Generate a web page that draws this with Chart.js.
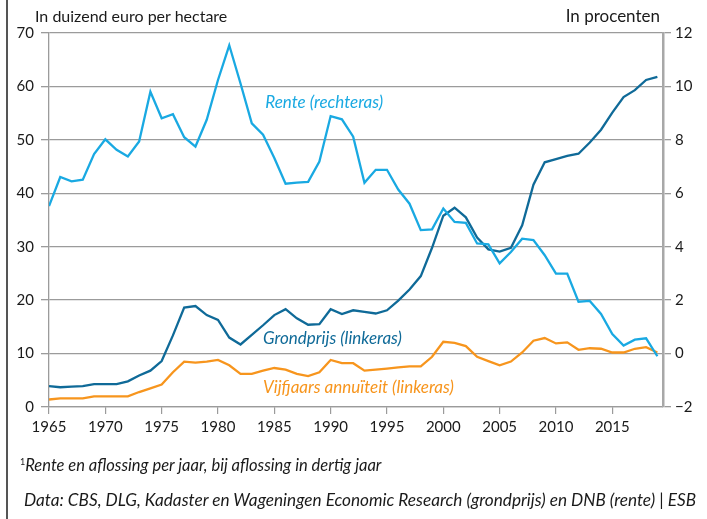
<!DOCTYPE html>
<html>
<head>
<meta charset="utf-8">
<script src="https://cdn.jsdelivr.net/npm/chart.js@4"></script>
<style>
  body { margin: 0; background: #fff; }
  #wrap { position: relative; width: 707px; height: 519px; font-family: Lato, "Open Sans", sans-serif; color: #1a1a1a; }
  #frame { position: absolute; left: 6px; top: 0; width: 2px; height: 519px; background: #555; }
  .note { position: absolute; font-style: italic; white-space: nowrap; }
  #axl { position: absolute; left: 35px; top: 6px; font-size: 16px; }
  #axr { position: absolute; right: 47px; top: 5px; font-size: 17px; }
</style>
</head>
<body>
<div id="wrap">
  <canvas id="myChart" width="707" height="519"></canvas>
  <div id="frame"></div>
  <div id="axl">In duizend euro per hectare</div>
  <div id="axr">In procenten</div>
  <div class="note" style="left:20px; top:455px; font-size:16.5px;"><sup style="font-size:9px; font-style:normal;">1</sup>Rente en aflossing per jaar, bij aflossing in dertig jaar</div>
  <div class="note" style="left:24px; top:489px; font-size:17.2px;">Data: CBS, DLG, Kadaster en Wageningen Economic Research (grondprijs) en DNB (rente) | ESB</div>
</div>
<script>
// data
var years = [];
for (var y = 1965; y <= 2019; y++) years.push(y);

var grondprijs = [
  3.9, 3.7, 3.8, 3.9, 4.3, 4.3, 4.3, 4.8, 5.9, 6.8,
  8.6, 13.4, 18.6, 18.9, 17.2, 16.3, 13.0, 11.7, 13.5, 15.3,
  17.2, 18.3, 16.6, 15.4, 15.5, 18.3, 17.4, 18.1, 17.8, 17.5,
  18.1, 19.9, 22.0, 24.5, 29.8, 35.8, 37.3, 35.5, 31.7, 29.5,
  29.1, 29.8, 34.0, 41.6, 45.8, 46.4, 47.0, 47.4, 49.5, 51.9,
  55.1, 58.0, 59.3, 61.2, 61.8
];

var annuiteit = [
  1.4, 1.6, 1.6, 1.6, 2.0, 2.0, 2.0, 2.0, 2.8, 3.5,
  4.2, 6.5, 8.5, 8.3, 8.5, 8.8, 7.8, 6.2, 6.2, 6.8,
  7.3, 7.0, 6.2, 5.8, 6.5, 8.8, 8.2, 8.2, 6.8, 7.0,
  7.2, 7.4, 7.6, 7.6, 9.4, 12.2, 12.0, 11.4, 9.4, 8.6,
  7.8, 8.5, 10.2, 12.4, 12.9, 11.9, 12.1, 10.7, 11.0, 10.9,
  10.2, 10.2, 10.9, 11.2, 10.2
];

var rente = [
  5.52, 6.61, 6.45, 6.51, 7.47, 8.02, 7.63, 7.38, 7.94, 9.80,
  8.81, 8.96, 8.10, 7.75, 8.75, 10.24, 11.54, 10.11, 8.62, 8.19,
  7.32, 6.36, 6.40, 6.43, 7.19, 8.89, 8.77, 8.12, 6.39, 6.88,
  6.88, 6.14, 5.61, 4.62, 4.65, 5.43, 4.93, 4.89, 4.12, 4.09,
  3.38, 3.80, 4.30, 4.25, 3.68, 2.99, 2.99, 1.94, 1.97, 1.48,
  0.73, 0.30, 0.52, 0.57, -0.10
];

var xTicks = [1965, 1970, 1975, 1980, 1985, 1990, 1995, 2000, 2005, 2010, 2015];

function pts(arr) {
  return arr.map((v, i) => ({ x: years[i], y: v }));
}

var gridColor = "#9b9b9b";

// line labels drawn inside the plot
var lineLabels = {
  id: "lineLabels",
  afterDatasetsDraw(chart) {
    var c = chart.ctx;
    var x = chart.scales.x, yl = chart.scales.yl, yr = chart.scales.yr;
    var items = [
      { t: "Rente (rechteras)", x: 1984.2, y: yr.getPixelForValue(9.38), col: "#19a9e2" },
      { t: "Grondprijs (linkeras)", x: 1984.0, y: yl.getPixelForValue(12.9), col: "#0f6a98" },
      { t: "Vijfjaars annuïteit (linkeras)", x: 1984.0, y: yl.getPixelForValue(3.6), col: "#f7951d" },
    ];
    c.save();
    c.font = "italic 17px Lato";
    c.textBaseline = "middle";
    items.forEach((it) => {
      c.fillStyle = it.col;
      c.fillText(it.t, x.getPixelForValue(it.x), it.y);
    });
    c.restore();
  },
};

Chart.defaults.font.family = "Lato";
Chart.defaults.font.size = 15;
Chart.defaults.color = "#1a1a1a";

var ctx = document.getElementById("myChart").getContext("2d");

var myChart = new Chart(ctx, {
  type: "line",
  data: {
    datasets: [
      {
        label: "Rente (rechteras)",
        data: pts(rente),
        yAxisID: "yr",
        borderColor: "#19a9e2",
        borderWidth: 2.3,
      },
      {
        label: "Grondprijs (linkeras)",
        data: pts(grondprijs),
        yAxisID: "yl",
        borderColor: "#0f6a98",
        borderWidth: 2.3,
      },
      {
        label: "Vijfjaars annuïteit (linkeras)",
        data: pts(annuiteit),
        yAxisID: "yl",
        borderColor: "#f7951d",
        borderWidth: 2.3,
      },
    ],
  },
  options: {
    responsive: false,
    animation: false,
    events: [],
    elements: { point: { radius: 0 }, line: { tension: 0 } },
    layout: { padding: { top: 33, bottom: 82, left: 0, right: 0 } },
    plugins: { legend: { display: false }, tooltip: { enabled: false } },
    scales: {
      x: {
        type: "linear",
        min: 1965,
        max: 2019.5,
        afterBuildTicks: (s) => { s.ticks = xTicks.map((v) => ({ value: v })); },
        afterFit: (s) => { s.height = 30; s.paddingLeft = 0; s.paddingRight = 0; },
        ticks: { callback: (v) => String(v), maxRotation: 0, autoSkip: false, padding: 4 },
        grid: { drawOnChartArea: false, color: gridColor, tickLength: 7, lineWidth: 1.2 },
        border: { color: gridColor, width: 1.2 },
      },
      yl: {
        position: "left",
        min: 0,
        max: 70,
        ticks: { stepSize: 10, padding: 7 },
        afterFit: (s) => { s.width = 49; s.paddingTop = 0; s.paddingBottom = 0; },
        grid: { color: gridColor, tickLength: 8, lineWidth: 1.3 },
        border: { color: gridColor, width: 1.3 },
      },
      yr: {
        position: "right",
        min: -2,
        max: 12,
        ticks: { stepSize: 2, padding: 4, callback: (v) => String(v).replace("-", "\u2212") },
        afterFit: (s) => { s.width = 44; s.paddingTop = 0; s.paddingBottom = 0; },
        grid: { drawOnChartArea: false, color: gridColor, tickLength: 8, lineWidth: 1.3 },
        border: { color: "#a8a8a8", width: 2.5 },
      },
    },
  },
  plugins: [lineLabels],
});
</script>
</body>
</html>
